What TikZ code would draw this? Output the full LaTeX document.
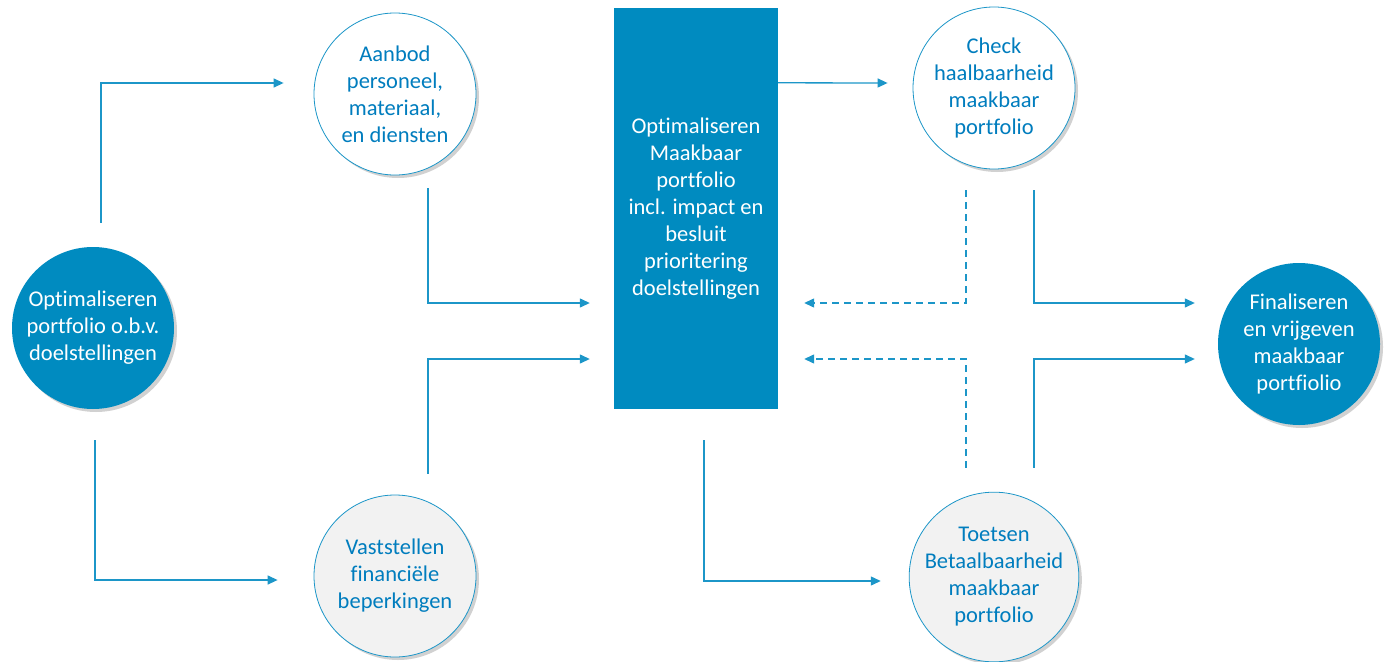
\documentclass[tikz,border=0pt]{standalone}
\usepackage{fontspec}
\setmainfont{Carlito}[Ligatures=NoCommon]
\usetikzlibrary{calc, shapes.geometric, positioning, arrows.meta, shadows}
\definecolor{procblue}{RGB}{0,139,192}
\definecolor{lineblue}{RGB}{28,150,200}
\definecolor{textblue}{RGB}{0,125,190}
\definecolor{lightfill}{RGB}{242,242,242}
\tikzset{
  txt/.style={font=\fontsize{22.5}{27}\selectfont, align=center},
  shade3/.style={drop shadow={shadow xshift=3pt, shadow yshift=-3pt, opacity=0.3, fill=black!60}},
  bluecirc/.style={txt, circle, fill=procblue, text=white, minimum size=162pt, inner sep=0pt, shade3},
  whitecirc/.style={txt, circle, draw=lineblue, line width=0.8pt, fill=white, text=textblue, minimum size=162pt, inner sep=0pt, shade3},
  graycirc/.style={whitecirc, fill=lightfill},
  mainbox/.style={txt, rectangle, fill=procblue, text=white, minimum width=164pt, minimum height=401pt, inner sep=0pt},
  arr/.style={draw=lineblue, line width=1.3pt, -{Triangle[length=10pt,width=9pt]}},
  dasharr/.style={arr, dash pattern=on 7pt off 5pt}
}
\begin{document}
\begin{tikzpicture}[x=1pt, y=-1pt]
\useasboundingbox (0,0) rectangle (1388,661);
% knooppunten
\node[bluecirc] (opt) at (93,328) {Optimaliseren\\portfolio o.b.v.\\doelstellingen};
\node[whitecirc] (aanbod) at (395,94) {Aanbod\\personeel,\\materiaal,\\en diensten};
\node[graycirc] (vast) at (395,576) {Vaststellen\\financiële\\beperkingen};
\node[mainbox] (main) at (696,208.5) {Optimaliseren\\Maakbaar\\portfolio\\incl. impact en\\besluit\\prioritering\\doelstellingen};
\node[whitecirc] (check) at (994,88) {Check\\haalbaarheid\\maakbaar\\portfolio};
\node[graycirc] (toets) at (994,577) {Toetsen\\Betaalbaarheid\\maakbaar\\portfolio};
\node[bluecirc] (fin) at (1299,344) {Finaliseren\\en vrijgeven\\maakbaar\\portfiolio};
% pijlen links
\draw[arr] ([xshift=8pt,yshift=24pt]opt.north) |- ([xshift=-30pt,yshift=11pt]aanbod.west);
\draw[arr] ([xshift=2pt,yshift=-31pt]opt.south) |- ([xshift=-36pt,yshift=-4pt]vast.west);
\draw[arr] ([xshift=33pt,yshift=-13pt]aanbod.south) |- ([xshift=-24pt,yshift=-94.5pt]main.west);
\draw[arr] ([xshift=33pt,yshift=21pt]vast.north) |- ([xshift=-24pt,yshift=-150.5pt]main.west);
% pijlen midden
\draw[arr] ([yshift=-75pt]main.north east) -- ([xshift=-25pt,yshift=5pt]check.west);
\draw[arr] ([xshift=8pt,yshift=-31pt]main.south) |- ([xshift=-28pt,yshift=-4pt]toets.west);
\draw[dasharr] ([xshift=-28pt,yshift=-21pt]check.south) |- ([xshift=26pt,yshift=-94.5pt]main.east);
\draw[dasharr] ([xshift=-28pt,yshift=24pt]toets.north) |- ([xshift=26pt,yshift=-150.5pt]main.east);
% pijlen rechts
\draw[arr] ([xshift=40pt,yshift=-21pt]check.south) |- ([xshift=-23pt,yshift=41pt]fin.west);
\draw[arr] ([xshift=40pt,yshift=24pt]toets.north) |- ([xshift=-23pt,yshift=-15pt]fin.west);
\end{tikzpicture}
\end{document}
